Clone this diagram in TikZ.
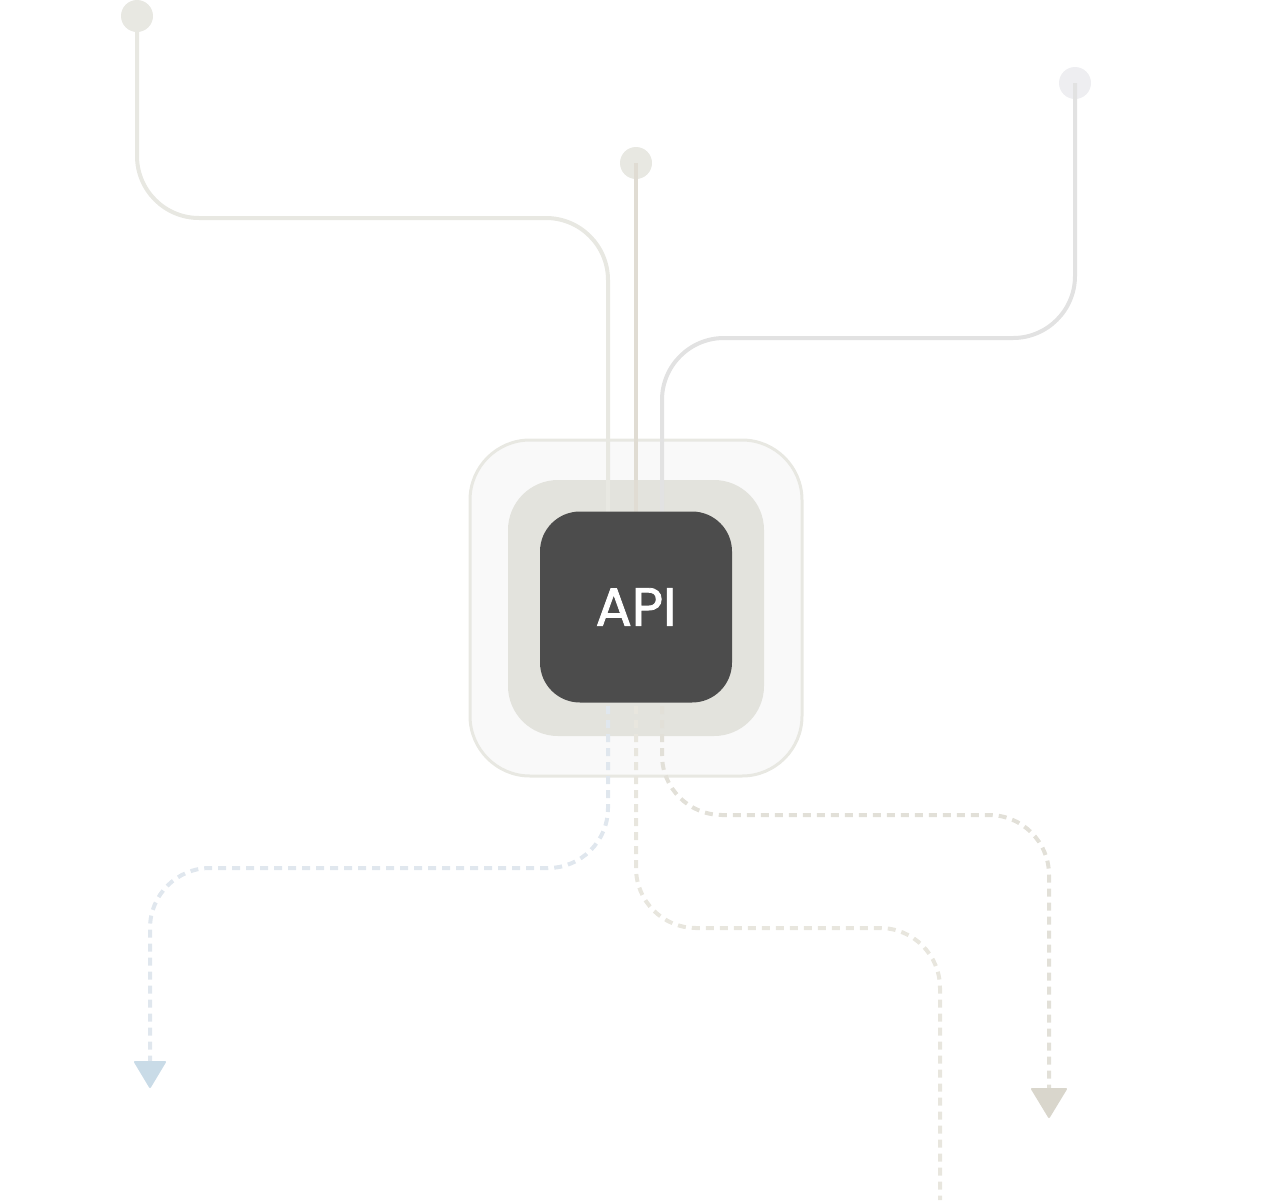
\documentclass[tikz,border=0pt]{standalone}
\usepackage{fontspec}
\setmainfont{Poppins}
\begin{document}
\begin{tikzpicture}[x=1pt,y=-1pt,
  wire/.style={line width=4pt,rounded corners=62pt},
  dwire/.style={line width=4pt,rounded corners=60pt,dash pattern=on 8pt off 6pt},
  dot/.style={circle,minimum size=32pt,inner sep=0pt},
  tip/.style={line width=2pt,line join=round}]
\useasboundingbox (0,0) rectangle (1272,1200);
\definecolor{wA}{HTML}{E8E8E2}\definecolor{wB}{HTML}{E0DCD3}\definecolor{wC}{HTML}{E2E2E2}
\definecolor{dA}{HTML}{E0E7EE}\definecolor{dB}{HTML}{E8E6DE}\definecolor{dC}{HTML}{E2E0D8}
\definecolor{aA}{HTML}{C9DBE7}\definecolor{aC}{HTML}{D9D6CC}
% box
\node[draw=wA,line width=3pt,fill=gray!5,rounded corners=60pt,minimum width=332pt,minimum height=336pt] (outer) at (636,608) {};
\node[fill=wA!95!gray,rounded corners=50pt,minimum width=256pt,minimum height=256pt] (mid) at (636,608) {};
% wires
\node[dot,fill=wA] (d1) at (137,16) {};
\node[dot,fill=wA] (d2) at (636,163) {};
\node[dot,fill=blue!10!gray!12] (d3) at (1075,83) {};
\coordinate (e1) at (608,515);\coordinate (e2) at (636,515);\coordinate (e3) at (662,515);
\draw[wire,draw=wA] (d1.center) |- (608,218) -- (e1);
\draw[wire,draw=wB] (d2.center) -- (e2);
\draw[wire,draw=wC] (d3.center) |- (662,338) -- (e3);
% dashed
\coordinate (a) at (150,1062);\coordinate (c) at (1049,1090);\coordinate (b) at (940,1200);
\draw[dwire,draw=dA] (608,706) |- (150,868) -- (a);
\draw[dwire,draw=dB] (636,706) |- (940,928) -- (b);
\draw[dwire,draw=dC] (662,706) |- (1049,815) -- (c);
\fill[aA,tip,draw=aA] (135,1062) -- (165,1062) -- (150,1087) -- cycle;
\fill[aC,tip,draw=aC] (1032,1089) -- (1066,1089) -- (1049,1117) -- cycle;
\node[fill=black!70,rounded corners=40pt,minimum width=192pt,minimum height=191pt,text=white,font=\fontsize{54}{54}\selectfont\addfontfeature{FakeBold=1.5}] (api) at (636,607) {API};
\end{tikzpicture}
\end{document}
